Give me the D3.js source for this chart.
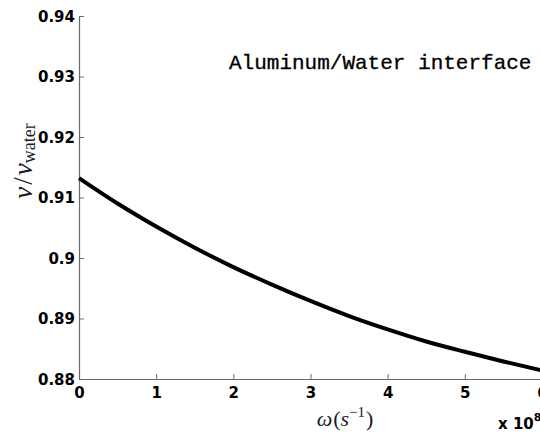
<!DOCTYPE html>
<html>
<head>
<meta charset="utf-8">
<script src="https://cdn.jsdelivr.net/npm/d3@7"></script>
<style>
  body { margin: 0; background: #fff; }
  svg { display: block; }
</style>
</head>
<body>
<script>
// omega in units of 1e8 s^-1
const omega = [0, 0.5, 1, 1.5, 2, 2.5, 3, 3.5, 4, 4.5, 5, 5.5, 6];
const ratio = [0.9132, 0.9090, 0.9052, 0.9017, 0.8985, 0.8956, 0.8929, 0.8904, 0.8882, 0.8862, 0.8845, 0.8829, 0.8814];
const xTicks = [0, 1, 2, 3, 4, 5, 6];
const yTicks = [0.88, 0.89, 0.9, 0.91, 0.92, 0.93, 0.94];

const width = 540;
const height = 437;

const svg = d3.select("body").append("svg")
    .attr("width", width)
    .attr("height", height);

// axes box runs past the right edge, like the cropped original
const x = d3.scaleLinear().domain([0, 6]).range([79, 542]);
const y = d3.scaleLinear().domain([0.88, 0.94]).range([379, 16]);

const tickFont = "DejaVu Sans, sans-serif";

// x axis
const xAxis = d3.axisBottom(x)
    .tickValues(xTicks)
    .tickFormat(d3.format("d"))
    .tickSizeInner(-5)
    .tickSizeOuter(0)
    .tickPadding(8);
const gx = svg.append("g")
    .attr("transform", "translate(0," + y(0.88) + ")")
    .call(xAxis);

// y axis
const yAxis = d3.axisLeft(y)
    .tickValues(yTicks)
    .tickFormat(d => d3.format(".2f")(d).replace(/0$/, ""))
    .tickSizeInner(-5)
    .tickSizeOuter(0)
    .tickPadding(4);
const gy = svg.append("g")
    .attr("transform", "translate(" + x(0) + ",0)")
    .call(yAxis);

[gx, gy].forEach(g => {
    g.select(".domain").attr("stroke", "#6a6a6a").attr("stroke-width", 1.2);
    g.selectAll(".tick line").attr("stroke", "#6a6a6a");
    g.selectAll(".tick text")
        .attr("fill", "#000")
        .attr("font-family", tickFont)
        .attr("font-weight", "bold")
        .attr("font-size", 15);
});
gy.selectAll(".tick text").attr("dy", "0.36em");

// curve
const line = d3.line()
    .x((d, i) => x(omega[i]))
    .y(d => y(d))
    .curve(d3.curveMonotoneX);

svg.append("path")
    .datum(ratio)
    .attr("d", line)
    .attr("fill", "none")
    .attr("stroke", "#000")
    .attr("stroke-width", 4);

// title
svg.append("text")
    .attr("x", 229)
    .attr("y", 69)
    .attr("font-family", "Liberation Mono, monospace")
    .attr("font-size", 21)
    .attr("fill", "#000")
    .attr("stroke", "#000")
    .attr("stroke-width", 0.3)
    .text("Aluminum/Water interface");

// x label
const xl = svg.append("text")
    .attr("x", 345)
    .attr("y", 426)
    .attr("text-anchor", "middle")
    .attr("font-family", "Liberation Serif, serif")
    .attr("font-size", 22)
    .attr("fill", "#1a1a2a");
xl.append("tspan").attr("font-style", "italic").text("ω");
xl.append("tspan").attr("dx", 1).text("(");
xl.append("tspan").attr("font-style", "italic").text("s");
xl.append("tspan").attr("font-size", 15).attr("dy", -9).text("−1");
xl.append("tspan").attr("dy", 9).attr("dx", 1).text(")");

// exponent label
const ex = svg.append("text")
    .attr("x", 498)
    .attr("y", 429)
    .attr("font-family", tickFont)
    .attr("font-weight", "bold")
    .attr("font-size", 15)
    .attr("fill", "#000");
ex.append("tspan").text("x 10");
ex.append("tspan").attr("font-size", 11).attr("dy", -8).text("8");

// y label
const yl = svg.append("text")
    .attr("transform", "translate(32,161) rotate(-90)")
    .attr("text-anchor", "middle")
    .attr("font-family", "Liberation Serif, serif")
    .attr("font-size", 27)
    .attr("fill", "#1a1a2a");
yl.append("tspan").attr("font-style", "italic").text("ν");
yl.append("tspan").attr("dx", 2).text("/");
yl.append("tspan").attr("dx", 2).attr("font-style", "italic").text("ν");
yl.append("tspan").attr("font-size", 18).attr("dy", 3).text("water");
</script>
</body>
</html>
